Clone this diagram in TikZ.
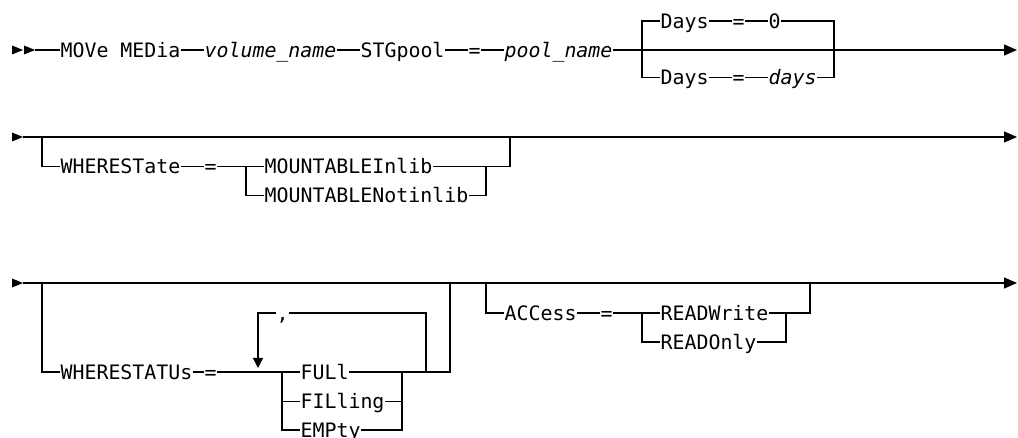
\documentclass[tikz,border=0pt]{standalone}
\usepackage{fontspec}
\setmonofont{DejaVu Sans Mono}
\usetikzlibrary{arrows.meta}

\begin{document}
\begin{tikzpicture}[x=1pt, y=-1pt, line width=1.2pt,
  kw/.style={anchor=west, inner sep=0pt, text height=14.4pt, text depth=0pt,
    font=\ttfamily\fontsize{19.9}{24}\selectfont},
  var/.style={kw, font=\ttfamily\itshape\fontsize{19.9}{24}\selectfont},
  endarrow/.style={-{Triangle[length=13pt, width=11pt]}},
  looparrow/.style={-{Triangle[length=10pt, width=10pt]}}]
\useasboundingbox (0,0) rectangle (1018,438);
% ---------- row 1: MOVe MEDia, STGpool, Days ----------
\fill (12,45.5) -- (23,50) -- (12,54.5) -- cycle;
\fill (24,45.5) -- (35,50) -- (24,54.5) -- cycle;
\coordinate (r1s) at (35,50);
\coordinate (r1e) at (1017,50);
\node[kw] (mv) at (60,50) {MOVe MEDia};
\node[var] (vol) at (204,50) {volume\_name};
\node[kw] (stg) at (360,50) {STGpool};
\node[kw] (eqa) at (468,50) {=};
\node[var] (pool) at (504,50) {pool\_name};
\draw (r1s) -- (mv.west) (mv.east) -- (vol.west) (vol.east) -- (stg.west)
  (stg.east) -- (eqa.west) (eqa.east) -- (pool.west);
\draw[endarrow] (pool.east) -- (r1e);
% Days: default above, choice below
\coordinate (ja) at (642,50);
\coordinate (jb) at (834,50);
\node[kw] (daysa) at (660,21) {Days};
\node[kw] (eqb) at (732,21) {=};
\node[kw] (zero) at (768,21) {0};
\node[kw] (daysb) at (660,77.5) {Days};
\node[kw] (eqc) at (732,77.5) {=};
\node[var] (days) at (768,77.5) {days};
\draw (daysa.west) -- (ja |- daysa) -- (ja |- daysb) -- (daysb.west);
\draw (daysa.east) -- (eqb.west) (eqb.east) -- (zero.west);
\draw (daysb.east) -- (eqc.west) (eqc.east) -- (days.west);
\draw (zero.east) -- (jb |- zero) -- (jb |- days) -- (days.east);
% ---------- row 2: WHERESTate ----------
\fill (12,132.5) -- (23,137) -- (12,141.5) -- cycle;
\coordinate (r2s) at (23,137);
\coordinate (r2e) at (1017,137);
\draw[endarrow] (r2s) -- (r2e);
\coordinate (wa) at (42,137);
\coordinate (wb) at (510,137);
\node[kw] (wst) at (60,166.5) {WHERESTate};
\node[kw] (eqd) at (204,166.5) {=};
\node[kw] (inlib) at (264,166.5) {MOUNTABLEInlib};
\node[kw] (notin) at (264,195.5) {MOUNTABLENotinlib};
\coordinate (ma) at (246,166.5);
\coordinate (mb) at (486,166.5);
\draw (wa) -- (wa |- wst) -- (wst.west);
\draw (wst.east) -- (eqd.west) (eqd.east) -- (inlib.west);
\draw (ma) -- (ma |- notin) -- (notin.west);
\draw (inlib.east) -- (wb |- inlib) -- (wb);
\draw (notin.east) -- (mb |- notin) -- (mb);
% ---------- row 3: WHERESTATUs, ACCess ----------
\fill (12,278.5) -- (23,283) -- (12,287.5) -- cycle;
\coordinate (r3s) at (23,283);
\coordinate (r3e) at (1017,283);
\draw[endarrow] (r3s) -- (r3e);
\coordinate (sa) at (42,283);
\coordinate (sb) at (450,283);
\node[kw] (wsu) at (60,372) {WHERESTATUs};
\node[kw] (eqe) at (204,372) {=};
\node[kw] (full) at (300,372) {FULl};
\node[kw] (filg) at (300,401.5) {FILling};
\node[kw] (empt) at (300,430) {EMPty};
\coordinate (ca) at (282,372);
\coordinate (cb) at (402,372);
\draw (sa) -- (sa |- wsu) -- (wsu.west);
\draw (wsu.east) -- (eqe.west) (eqe.east) -- (full.west);
\draw (ca) -- (ca |- empt) -- (empt.west) (ca |- filg) -- (filg.west);
\draw (full.east) -- (sb |- full) -- (sb);
\draw (filg.east) -- (cb |- filg);
\draw (empt.east) -- (cb |- empt) -- (cb);
% repeat loop with separator
\coordinate (la) at (258,313);
\coordinate (lb) at (426,313);
\coordinate (lt) at (258,368);
\node[kw] (comma) at (276,313) {,};
\draw (lb |- full) -- (lb) -- (comma.east);
\draw[looparrow] (comma.west) -- (la) -- (lt);
% ACCess
\coordinate (aa) at (486,283);
\coordinate (ab) at (810,283);
\node[kw] (acc) at (504,313) {ACCess};
\node[kw] (eqf) at (600,313) {=};
\node[kw] (rw) at (660,313) {READWrite};
\node[kw] (ro) at (660,342) {READOnly};
\coordinate (ra) at (642,313);
\coordinate (rb) at (786,313);
\draw (aa) -- (aa |- acc) -- (acc.west);
\draw (acc.east) -- (eqf.west) (eqf.east) -- (rw.west);
\draw (ra) -- (ra |- ro) -- (ro.west);
\draw (rw.east) -- (ab |- rw) -- (ab);
\draw (ro.east) -- (rb |- ro) -- (rb);
\end{tikzpicture}
\end{document}
